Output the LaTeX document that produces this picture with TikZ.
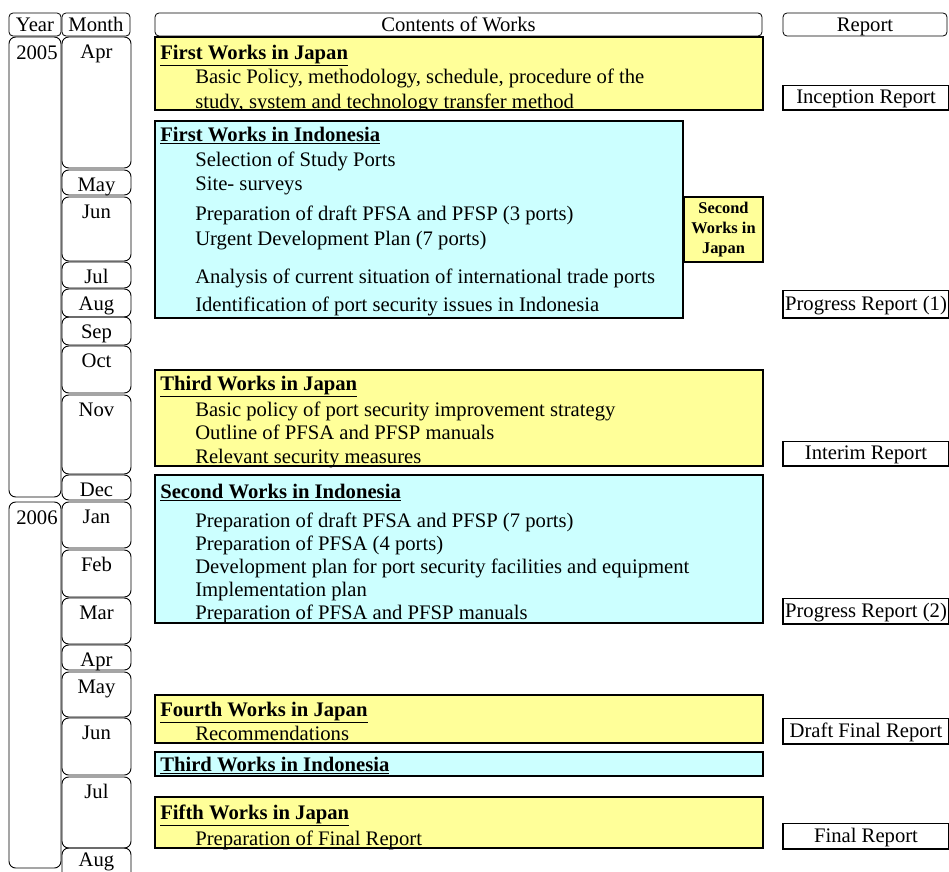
\documentclass[tikz,border=0pt]{standalone}
\usepackage{fontspec}
\setmainfont{Liberation Serif}
\definecolor{jpyellow}{HTML}{FFFF99}
\definecolor{idcyan}{HTML}{CCFFFF}
\newcommand\bodysize{\fontsize{15.5}{18}\selectfont}
\tikzset{
  hdrbox/.style={draw, rounded corners=3pt, line width=0.6pt},
  calbox/.style={draw, rounded corners=5pt, line width=0.7pt},
  workbox/.style={draw, line width=1.7pt},
  lbl/.style={anchor=base, inner sep=0pt},
  ttl/.style={anchor=base west, inner sep=0pt, font=\bodysize\bfseries},
  item/.style={anchor=base west, inner sep=0pt},
}

\begin{document}
\begin{tikzpicture}[x=0.75pt, y=-0.75pt, font=\bodysize]
\useasboundingbox (0,0) rectangle (949,871);
% ---------- header row ----------
\draw[hdrbox] (9,13) rectangle (61,36);
\node[lbl] (hyear) at (35,31) {Year};
\draw[hdrbox] (62,13) rectangle (130,36);
\node[lbl] (hmonth) at (96,31) {Month};
\draw[hdrbox] (155,13) rectangle (762,36);
\node[lbl] (hworks) at (458.5,31) {Contents of Works};
\draw[hdrbox] (783,13) rectangle (947,36);
\node[lbl] (hreport) at (865,31) {Report};
% ---------- years and months ----------
\draw[calbox] (9,37) rectangle (61,497);
\node[lbl] (y2005) at (37,59) {2005};
\draw[calbox] (9,502) rectangle (61,868);
\node[lbl] (y2006) at (37,524) {2006};
\foreach \m/\ya/\yb [count=\i] in {Apr/37/168, May/170/195, Jun/197/261,
    Jul/262/288, Aug/289/317, Sep/317/345, Oct/346/393, Nov/395/474,
    Dec/475/500, Jan/502/548, Feb/550/597, Mar/598/644, Apr/645/670,
    May/672/717, Jun/718/775, Jul/777/848, Aug/848/880}{
  \draw[calbox] (62,\ya) rectangle (131,\yb);
  \node[lbl] (mon\i) at (96.5,{min(\ya+21,866)}) {\m};
}
% ---------- first works in Japan ----------
\fill[jpyellow] (155,37) rectangle (763,110);
\node[ttl] (w1t) at (160,59) {\underline{First Works in Japan}};
\begin{scope}
\clip (155,37) rectangle (763,110);
\node[item] (w1a) at (195,83) {Basic Policy, methodology, schedule, procedure of the};
\node[item] (w1b) at (195,108) {study, system and technology transfer method};
\end{scope}
\draw[workbox] (155,37) rectangle (763,110);
% ---------- first works in Indonesia ----------
\draw[workbox, fill=idcyan] (155,121) rectangle (683,318);
\node[ttl] (w2t) at (160,141) {\underline{First Works in Indonesia}};
\node[item] (w2a) at (195,166) {Selection of Study Ports};
\node[item] (w2b) at (195,190) {Site- surveys};
\node[item] (w2c) at (195,220) {Preparation of draft PFSA and PFSP (3 ports)};
\node[item] (w2d) at (195,245) {Urgent Development Plan (7 ports)};
\node[item] (w2e) at (195,283) {Analysis of current situation of international trade ports};
\node[item] (w2f) at (195,311) {Identification of port security issues in Indonesia};
% second works in Japan (small box)
\draw[workbox, fill=jpyellow] (684,197) rectangle (763,262);
\node[align=center, font=\fontsize{12.3}{15}\selectfont\bfseries] (w3) at (723.5,229.5)
  {Second\\Works in\\Japan};
% ---------- third works in Japan ----------
\draw[workbox, fill=jpyellow] (155,370) rectangle (763,466);
\node[ttl] (w4t) at (160,390) {\underline{Third Works in Japan}};
\node[item] (w4a) at (195,416) {Basic policy of port security improvement strategy};
\node[item] (w4b) at (195,439) {Outline of PFSA and PFSP manuals};
\node[item] (w4c) at (195,463) {Relevant security measures};
% ---------- second works in Indonesia ----------
\draw[workbox, fill=idcyan] (155,475) rectangle (763,623);
\node[ttl] (w5t) at (160,498) {\underline{Second Works in Indonesia}};
\node[item] (w5a) at (195,527) {Preparation of draft PFSA and PFSP (7 ports)};
\node[item] (w5b) at (195,550) {Preparation of PFSA (4 ports)};
\node[item] (w5c) at (195,573) {Development plan for port security facilities and equipment};
\node[item] (w5d) at (195,596) {Implementation plan};
\node[item] (w5e) at (195,619) {Preparation of PFSA and PFSP manuals};
% ---------- fourth and fifth works ----------
\draw[workbox, fill=jpyellow] (155,695) rectangle (763,743);
\node[ttl] (w6t) at (160,716) {\underline{Fourth Works in Japan}};
\node[item] (w6a) at (195,740) {Recommendations};
\draw[workbox, fill=idcyan] (155,752) rectangle (763,776);
\node[ttl] (w7t) at (160,771) {\underline{Third Works in Indonesia}};
\draw[workbox, fill=jpyellow] (155,797) rectangle (763,848);
\node[ttl] (w8t) at (160,819) {\underline{Fifth Works in Japan}};
\node[item] (w8a) at (195,845) {Preparation of Final Report};
% ---------- reports ----------
\foreach \r/\ya/\yb [count=\i] in {Inception Report/85/110, Progress Report (1)/290/318,
    Interim Report/441/466, Progress Report (2)/598/624, Draft Final Report/718/744,
    Final Report/823/849}{
  \draw[line width=0.6pt] (783,\ya) rectangle (948,\yb);
  \draw[line width=1.6pt] (783,\ya) -- (783,\yb) -- (948,\yb);
  \node[lbl] (rep\i) at (866,\ya/2+\yb/2+6) {\r};
}
\end{tikzpicture}
\end{document}
